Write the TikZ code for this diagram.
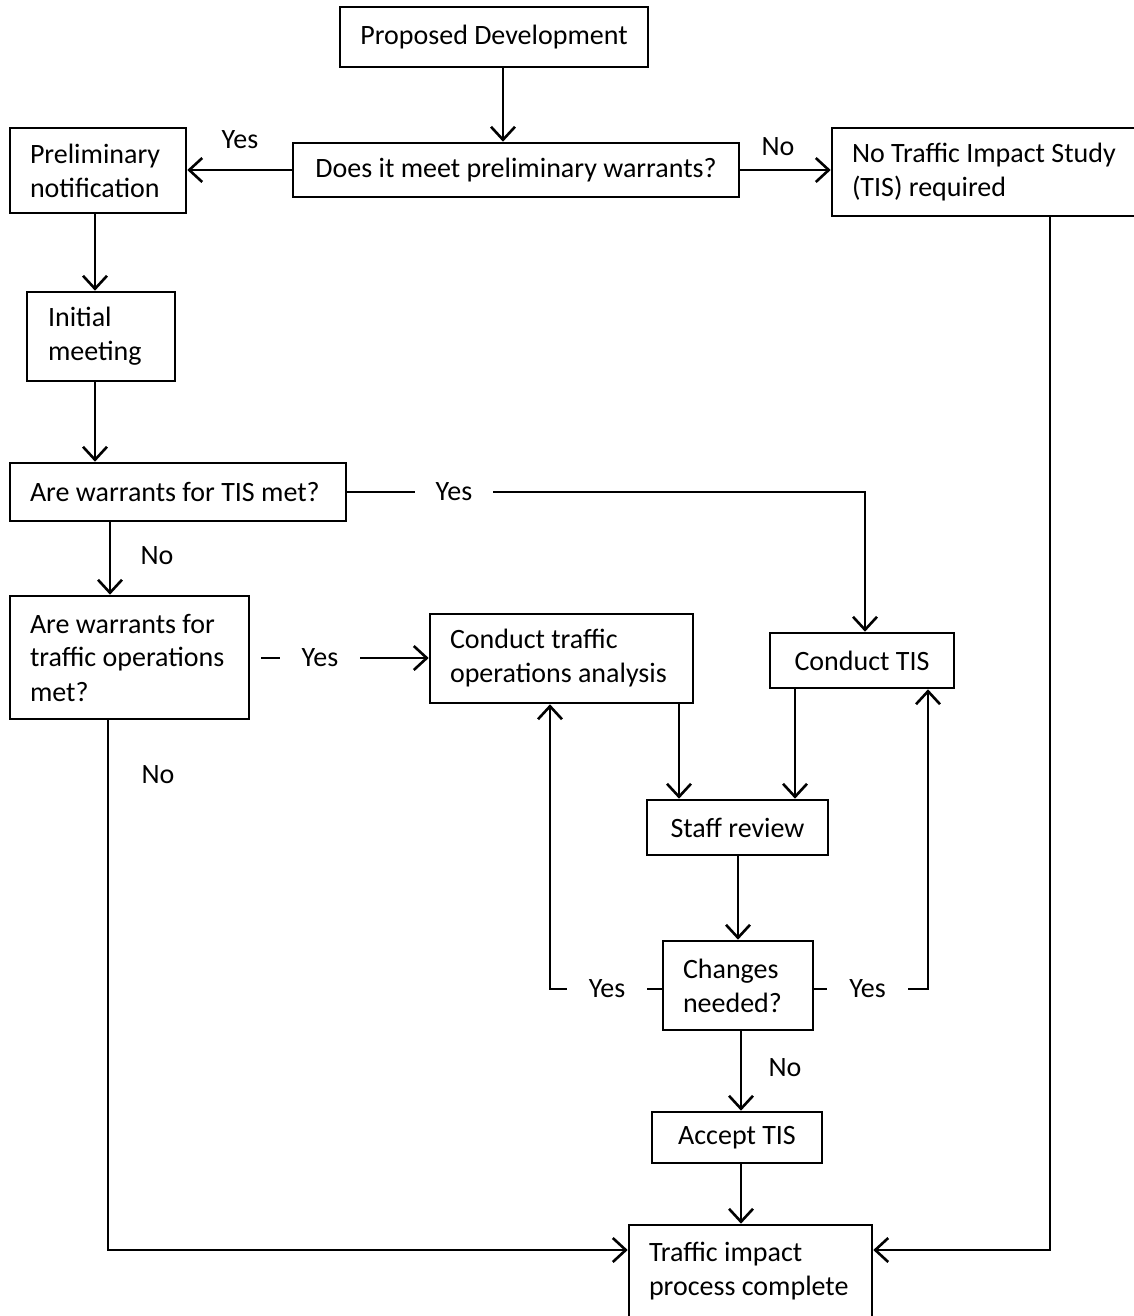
\documentclass[tikz,border=0pt]{standalone}
\usepackage{fontspec}
\setmainfont{Carlito}
\usetikzlibrary{arrows.meta}
\newcommand{\oneline}[1]{{\spaceskip=0pt\xspaceskip=0pt\mbox{#1}}}
\begin{document}
\begin{tikzpicture}[x=0.5pt,y=-0.5pt,
  every node/.style={font=\fontsize{14pt}{17pt}\selectfont},
  box/.style={draw, line width=1.3pt, rectangle, inner ysep=2pt},
  cbox/.style={box, align=center},
  lbox/.style={box, align=left, inner xsep=10pt},
  lab/.style={inner sep=0pt, minimum height=12pt},
  conn/.style={line width=1.3pt},
  arr/.style={conn, -{Straight Barb[length=6.5pt,width=12pt]}},
]
\useasboundingbox (0,0) rectangle (1134,1316);
\fill[white] (0,0) rectangle (1134,1316);
\clip (0,0) rectangle (1134,1316);

% nodes
\node[cbox, minimum width=154pt, minimum height=30pt] (pd) at (494,37) {Proposed Development};
\node[cbox, minimum width=223pt, minimum height=27pt] (q1) at (516,170) {Does it meet preliminary warrants?};
\node[lbox, minimum width=88pt, minimum height=42.5pt, text width=68pt] (pre) at (98,170.5) {\oneline{Preliminary}\\\oneline{notification}};
\node[lbox, minimum width=155pt, minimum height=44pt, text width=135pt] (notis) at (987,172) {\oneline{No Traffic Impact Study}\\\oneline{(TIS) required}};
\node[lbox, inner xsep=10.5pt, minimum width=74pt, minimum height=44.5pt, text width=53pt] (init) at (101,336.5) {\oneline{Initial}\\\oneline{meeting}};
\node[lbox, minimum width=168pt, minimum height=29pt, text width=148pt] (q2) at (178,492) {\oneline{Are warrants for TIS met?}};
\node[lbox, minimum width=119.5pt, minimum height=61.5pt, text width=99.5pt] (q3) at (129.5,657.5) {\oneline{Are warrants for}\\\oneline{traffic operations}\\\oneline{met?}};
\node[lbox, minimum width=131.5pt, minimum height=44.5pt, text width=111.5pt] (ops) at (561.5,658.5) {\oneline{Conduct traffic}\\\oneline{operations analysis}};
\node[cbox, minimum width=92pt, minimum height=27.5pt] (ctis) at (862,660.5) {Conduct TIS};
\node[cbox, minimum width=90.5pt, minimum height=27.5pt] (staff) at (737.5,827.5) {Staff review};
\node[lbox, minimum width=75pt, minimum height=44.5pt, text width=55pt] (chg) at (738,985.5) {\oneline{Changes}\\\oneline{needed?}};
\node[cbox, minimum width=85pt, minimum height=25.5pt] (acc) at (737,1137.5) {Accept TIS};
\node[lbox, minimum width=121.5pt, minimum height=46.5pt, text width=101.5pt] (done) at (750.5,1271.5) {\oneline{Traffic impact}\\\oneline{process complete}};

% labels
\node[lab] (yes1) at (240,140) {Yes};
\node[lab] (no1) at (778,147) {No};
\node[lab, minimum width=39pt] (yes2) at (454,492) {Yes};
\node[lab] (no2) at (157,556) {No};
\node[lab, minimum width=40pt] (yes3) at (320,658) {Yes};
\node[lab] (no3) at (158,775) {No};
\node[lab, minimum width=40pt] (yesL) at (607,989) {Yes};
\node[lab, minimum width=40.5pt] (yesR) at (867.5,989) {Yes};
\node[lab] (no4) at (785,1068) {No};

% lane coordinates
\coordinate (x503) at (503,0);
\coordinate (x95) at (95,0);
\coordinate (x110) at (110,0);
\coordinate (x108) at (108,0);
\coordinate (x865) at (865,0);
\coordinate (x1050) at (1050,0);
\coordinate (x679) at (679,0);
\coordinate (x795) at (795,0);
\coordinate (x738) at (738,0);
\coordinate (x741) at (741,0);
\coordinate (x550) at (550,0);
\coordinate (x928) at (928,0);
\coordinate (yB) at (0,1250);

% connectors
\draw[arr] (pd.south -| x503) -- (q1.north -| x503);
\draw[arr] (q1.west) -- (q1.west -| pre.east);
\draw[arr] (q1.east) -- (q1.east -| notis.west);
\draw[arr] (pre.south -| x95) -- (init.north -| x95);
\draw[arr] (init.south -| x95) -- (q2.north -| x95);
\draw[conn] (q2.east) -- (yes2.west);
\draw[arr] (yes2.east) -- (x865 |- yes2.east) -- (ctis.north -| x865);
\draw[arr] (q2.south -| x110) -- (q3.north -| x110);
\draw[conn] ([xshift=5.5pt]q3.east |- yes3.west) -- (yes3.west);
\draw[arr] (yes3.east) -- (yes3.east -| ops.west);
\draw[arr] (q3.south -| x108) -- (x108 |- yB) -- (done.west |- yB);
\draw[arr] (notis.south -| x1050) -- (x1050 |- yB) -- (done.east |- yB);
\draw[arr] (ops.south -| x679) -- (staff.north -| x679);
\draw[arr] (ctis.south -| x795) -- (staff.north -| x795);
\draw[arr] (staff.south -| x738) -- (chg.north -| x738);
\draw[conn] (chg.west |- yesL.east) -- (yesL.east);
\draw[arr] (yesL.west) -- (x550 |- yesL.west) -- (ops.south -| x550);
\draw[conn] (chg.east |- yesR.west) -- (yesR.west);
\draw[arr] (yesR.east) -- (x928 |- yesR.east) -- (ctis.south -| x928);
\draw[arr] (chg.south -| x741) -- (acc.north -| x741);
\draw[arr] (acc.south -| x741) -- (done.north -| x741);
\end{tikzpicture}
\end{document}
